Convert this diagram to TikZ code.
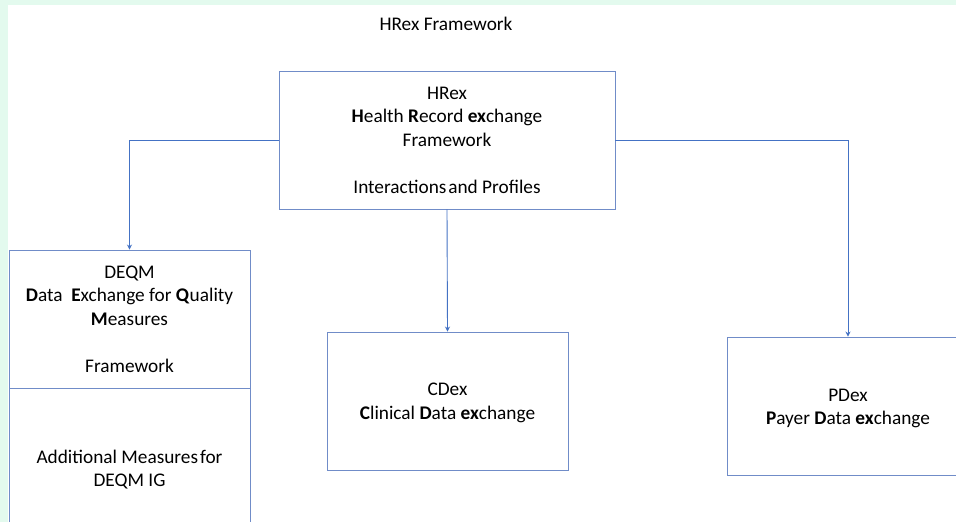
\documentclass[tikz,border=0pt]{standalone}
\usepackage{fontspec}
\setmainfont{Carlito}
\usetikzlibrary{arrows.meta}
\definecolor{mint}{RGB}{227,250,238}
\definecolor{boxline}{RGB}{112,140,200}
\definecolor{conn}{RGB}{68,114,196}
\begin{document}
\begin{tikzpicture}[x=1pt,y=-1pt,
  every node/.style={font=\fontsize{19.3}{23.5}\selectfont, text=black},
  framebox/.style={draw=boxline, line width=0.9pt, fill=white, align=center, inner sep=0pt},
  boxtext/.style={align=center, inner sep=0pt},
  conn/.style={draw=conn, line width=0.9pt, -{Stealth[length=5pt,width=5pt]}}]
\useasboundingbox (0,0) rectangle (956,522);
\clip (0,0) rectangle (956,522);
\fill[mint] (0,0) rectangle (956,522);
\fill[white] (8,5) rectangle (960,530);
\node (title) at (446,24) {HRex Framework};
\node[framebox, minimum width=336pt, minimum height=138pt] (hrex) at (447,140)
  {HRex\\ \textbf{H}ealth \textbf{R}ecord \textbf{ex}change\\ Framework\\[23.5pt] Interactions\hspace{0.1em}and Profiles};
\node[framebox, minimum width=241pt, minimum height=138pt] (deqm) at (129.5,319)
  {DEQM\\ \textbf{D}ata\ \ \textbf{E}xchange for \textbf{Q}uality\\ \textbf{M}easures\\[23.5pt] Framework};
\node[framebox, minimum width=241pt, minimum height=161pt, anchor=north] (addl) at (deqm.south)
  {Additional Measures\hspace{0.1em}for\\ DEQM IG};
\node[framebox, minimum width=241pt, minimum height=138pt] (cdex) at (447.5,401) {};
\node[boxtext] (cdextext) at ([yshift=-2pt]cdex.center)
  {CDex\\ \textbf{C}linical \textbf{D}ata \textbf{ex}change};
\node[framebox, minimum width=242pt, minimum height=138pt] (pdex) at (848,406) {};
\node[boxtext] (pdextext) at ([yshift=-2.5pt]pdex.center)
  {PDex\\ \textbf{P}ayer \textbf{D}ata \textbf{ex}change};
\draw[conn] (hrex.west) -| (deqm.north);
\draw[conn] (hrex.south) -- (cdex.north);
\draw[conn] (hrex.east) -| (pdex.north);
\end{tikzpicture}
\end{document}
